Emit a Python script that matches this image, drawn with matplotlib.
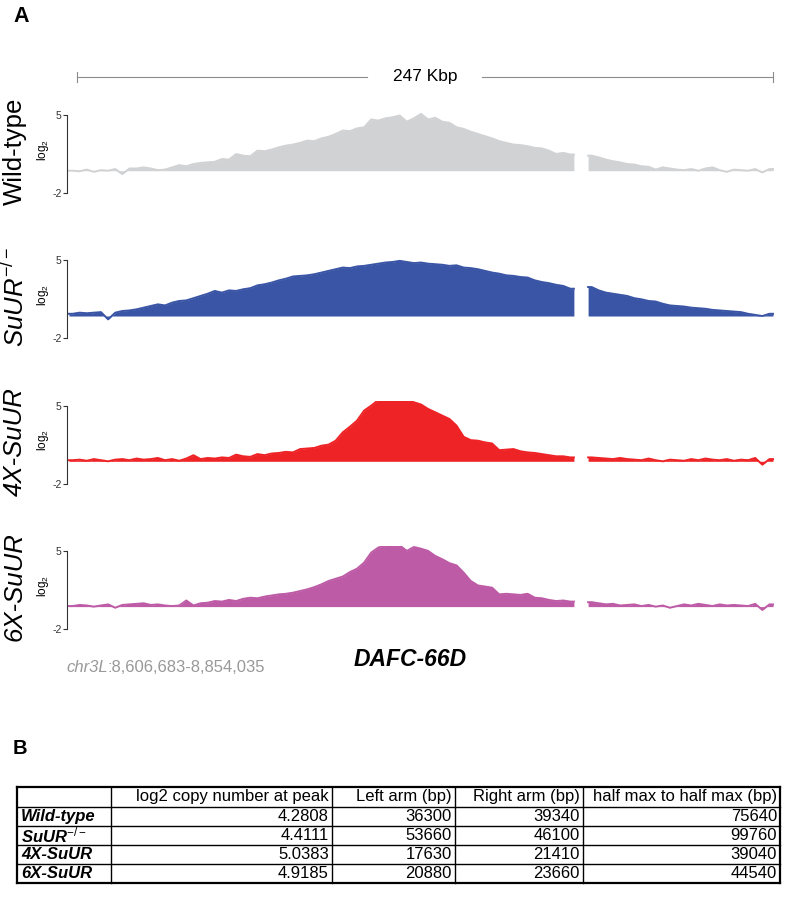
import numpy as np
import matplotlib.pyplot as plt

plt.rcParams['font.family'] = ['Liberation Sans', 'DejaVu Sans']
plt.rcParams['mathtext.fontset'] = 'custom'
plt.rcParams['mathtext.rm'] = 'Liberation Sans'
plt.rcParams['mathtext.it'] = 'Liberation Sans:italic'
plt.rcParams['mathtext.bf'] = 'Liberation Sans:bold'
plt.rcParams['mathtext.bfit'] = 'Liberation Sans:italic:bold'

# log2 copy number in 2.5 kb bins along chr3L:8,606,683-8,854,035 (nan = no data)
bin_kb = 2.5
nan = np.nan

wild_type = [0.0, -0.05, 0.1, -0.1, 0.05, 0.0, 0.15, -0.3, 0.2, 0.2,
             0.3, 0.2, 0.05, 0.1, 0.3, 0.5, 0.4, 0.6, 0.7, 0.75,
             0.8, 1.05, 1.0, 1.5, 1.35, 1.3, 1.8, 1.75, 1.9, 2.1,
             2.25, 2.35, 2.5, 2.7, 2.65, 2.9, 3.05, 3.3, 3.6, 3.55,
             3.8, 3.9, 4.6, 4.5, 4.7, 4.8, 4.95, 4.4, 4.7, 5.1,
             4.6, 4.75, 4.4, 4.3, 3.9, 3.75, 3.5, 3.3, 3.1, 2.9,
             2.65, 2.5, 2.35, 2.3, 2.2, 2.05, 2.0, 1.8, 1.5, 1.6,
             1.45, nan, nan, 1.35, 1.2, 1.0, 0.85, 0.75, 0.6, 0.55,
             0.4, 0.35, 0.1, 0.3, 0.2, 0.1, 0.05, 0.15, 0.0, 0.2,
             0.3, 0.05, -0.1, 0.1, 0.05, 0.0, 0.15, -0.15, 0.15]

suur = [0.2, 0.3, 0.25, 0.3, 0.35, -0.3, 0.3, 0.45, 0.5, 0.6,
        0.75, 0.9, 1.05, 0.95, 1.2, 1.35, 1.4, 1.6, 1.8, 2.0,
        2.25, 2.1, 2.3, 2.25, 2.4, 2.5, 2.75, 2.85, 3.0, 3.2,
        3.35, 3.55, 3.6, 3.65, 3.75, 3.9, 4.05, 4.2, 4.35, 4.3,
        4.45, 4.5, 4.6, 4.7, 4.8, 4.85, 4.95, 4.85, 4.75, 4.8,
        4.7, 4.65, 4.6, 4.5, 4.55, 4.35, 4.3, 4.2, 4.05, 3.9,
        3.8, 3.65, 3.6, 3.5, 3.45, 3.2, 3.05, 2.95, 2.8, 2.7,
        2.45, nan, nan, 2.6, 2.3, 2.1, 2.0, 1.9, 1.8, 1.6,
        1.5, 1.35, 1.3, 1.1, 0.95, 0.9, 0.85, 0.75, 0.7, 0.65,
        0.55, 0.5, 0.45, 0.4, 0.35, 0.2, 0.1, 0.0, 0.2]

x4_suur = [0.1, 0.15, 0.05, 0.2, 0.1, 0.0, 0.15, 0.2, 0.1, 0.25,
           0.15, 0.2, 0.3, 0.1, 0.2, 0.05, 0.25, 0.55, 0.2, 0.3,
           0.25, 0.35, 0.3, 0.6, 0.45, 0.4, 0.65, 0.55, 0.7, 0.75,
           0.85, 0.8, 1.1, 1.15, 1.2, 1.4, 1.5, 1.85, 2.6, 3.1,
           3.65, 4.55, 5.0, 5.5, 5.5, 5.5, 5.5, 5.5, 5.3, 5.1,
           4.7, 4.4, 4.1, 3.8, 3.2, 2.2, 1.9, 1.85, 1.7, 1.6,
           1.0, 1.05, 1.1, 0.9, 0.8, 0.75, 0.65, 0.55, 0.45, 0.45,
           0.35, nan, nan, 0.35, 0.3, 0.25, 0.2, 0.3, 0.2, 0.15,
           0.1, 0.25, 0.1, 0.0, 0.15, 0.1, 0.05, 0.2, 0.1, 0.25,
           0.15, 0.1, 0.2, 0.05, 0.15, 0.1, 0.3, -0.3, 0.2]

x6_suur = [0.05, 0.15, 0.1, 0.0, 0.1, 0.2, -0.1, 0.15, 0.2, 0.25,
           0.3, 0.15, 0.2, 0.1, 0.05, 0.1, 0.55, 0.1, 0.3, 0.35,
           0.5, 0.45, 0.6, 0.5, 0.7, 0.8, 0.75, 0.9, 1.0, 1.1,
           1.15, 1.25, 1.4, 1.55, 1.75, 2.0, 2.3, 2.5, 2.7, 3.1,
           3.4, 3.95, 4.85, 5.3, 5.5, 5.5, 5.5, 5.0, 5.35, 5.2,
           5.0, 4.55, 4.25, 3.9, 3.7, 3.05, 2.3, 1.9, 1.8, 1.7,
           1.1, 1.15, 1.1, 1.05, 1.15, 0.8, 0.75, 0.6, 0.5, 0.55,
           0.45, nan, nan, 0.4, 0.3, 0.2, 0.25, 0.1, 0.15, 0.2,
           0.05, 0.15, 0.0, 0.1, -0.1, 0.05, 0.2, 0.1, 0.25, 0.15,
           0.05, 0.2, 0.1, 0.15, 0.1, 0.05, 0.25, -0.3, 0.2]

tracks = [wild_type, suur, x4_suur, x6_suur]
track_names = ['Wild-type', r'$\mathit{SuUR}^{-/-}$', '4X-SuUR', '6X-SuUR']
track_styles = ['normal', 'italic', 'italic', 'italic']
track_colors = ['#d1d2d4', '#3a55a5', '#ee2326', '#bd5ba6']

region_kb = 247
region_label = 'chr3L'
region_coords = ':8,606,683-8,854,035'
locus = 'DAFC-66D'

# table (panel B)
table_cols = ['log2 copy number at peak', 'Left arm (bp)', 'Right arm (bp)',
              'half max to half max (bp)']
table_rows = ['Wild-type', r'$\mathbfit{SuUR}^{-/-}$', '4X-SuUR', '6X-SuUR']
peak_log2 = ['4.2808', '4.4111', '5.0383', '4.9185']
left_arm = [36300, 53660, 17630, 20880]
right_arm = [39340, 46100, 21410, 23660]
half_max = [75640, 99760, 39040, 44540]

W, H = 800, 899
fig = plt.figure(figsize=(W / 100, H / 100), dpi=100)

# overlay in pixel coordinates for labels, scale bar and table
ov = fig.add_axes([0, 0, 1, 1])
ov.set_xlim(0, W)
ov.set_ylim(H, 0)
ov.axis('off')

ov.text(13, 16, 'A', fontsize=15.5, fontweight='bold', va='center', ha='left')
ov.text(13, 748, 'B', fontsize=14.5, fontweight='bold', va='center', ha='left')

# scale bar
bar_c = '#8c8c8c'
ov.plot([77, 367], [77, 77], color=bar_c, lw=0.8)
ov.plot([482, 773], [77, 77], color=bar_c, lw=0.8)
ov.plot([77, 77], [72, 82], color=bar_c, lw=0.8)
ov.plot([773, 773], [72, 82], color=bar_c, lw=0.8)
ov.text(425, 77, f'{region_kb} Kbp', fontsize=12.5, ha='center', va='center')

# tracks
px_per_kb = 704 / (len(wild_type) * bin_kb)
ax_left = 67
ax_right = 774
unit = 78 / 7
for k, vals in enumerate(tracks):
    tick5 = 115 + 145.3 * k
    top = tick5 - 0.45 * unit
    bottom = tick5 + 7 * unit
    ax = fig.add_axes([ax_left / W, 1 - bottom / H, (ax_right - ax_left) / W,
                       (bottom - top) / H])
    ax.patch.set_alpha(0)
    vals = np.array(vals, dtype=float)
    starts = np.arange(len(vals)) * bin_kb
    ok = ~np.isnan(vals)
    # contiguous runs of data
    i = 0
    while i < len(vals):
        if not ok[i]:
            i += 1
            continue
        j = i
        while j + 1 < len(vals) and ok[j + 1]:
            j += 1
        xs = np.concatenate([[starts[i]], starts[i:j + 1] + bin_kb / 2,
                             [starts[j] + bin_kb]])
        ys = np.concatenate([[vals[i]], vals[i:j + 1], [vals[j]]])
        ax.fill_between(xs, 0, ys, color=track_colors[k], lw=0)
        ax.plot(xs, ys, color=track_colors[k], lw=1.4)
        i = j + 1
    ax.set_xlim(-2 / px_per_kb, (ax_right - 69) / px_per_kb)
    ax.set_ylim(-2, 5.45)
    for s in ['top', 'right', 'bottom']:
        ax.spines[s].set_visible(False)
    ax.spines['left'].set_bounds(-2, 5)
    ax.spines['left'].set_color('#333333')
    ax.spines['left'].set_linewidth(0.8)
    ax.set_xticks([])
    ax.set_yticks([-2, 5])
    ax.set_yticklabels(['-2', '5'])
    ax.tick_params(axis='y', length=3, width=0.8, pad=1, labelsize=7.5,
                   colors='#333333')
    ax.set_ylabel(r'log$_2$', fontsize=8.5)
    ax.yaxis.set_label_coords(-0.0226, 0.52)

    ov.text(15, tick5 + 36, track_names[k], rotation=90, fontsize=18.5,
            fontstyle=track_styles[k], ha='center', va='center')

t_chr = ov.text(66, 668, region_label, fontsize=12, fontstyle='italic',
                color='#999999', ha='left', va='center')
ov.annotate(region_coords, xy=(1, 0.5), xycoords=t_chr, fontsize=12,
            color='#999999', ha='left', va='center')
ov.text(410, 660, locus, fontsize=16.5, fontweight='bold', fontstyle='italic',
        ha='center', va='center')

# table
col_x = [17, 111, 332, 455, 583, 780]
row_y = [787, 807, 826, 845, 864, 883]
for x in col_x:
    lw = 1.6 if x in (col_x[0], col_x[-1]) else 1.0
    ov.plot([x, x], [row_y[0], row_y[-1]], color='black', lw=lw)
for y in row_y:
    lw = 1.6 if y in (row_y[0], row_y[-1]) else 1.0
    ov.plot([col_x[0], col_x[-1]], [y, y], color='black', lw=lw)

for c, name in enumerate(table_cols):
    ov.text(col_x[c + 2] - 3, (row_y[0] + row_y[1]) / 2, name, fontsize=12,
            ha='right', va='center')
for r, name in enumerate(table_rows):
    yc = (row_y[r + 1] + row_y[r + 2]) / 2
    ov.text(col_x[0] + 4, yc, name, fontsize=12, fontweight='bold',
            fontstyle='italic', ha='left', va='center')
    cells = [peak_log2[r], str(left_arm[r]), str(right_arm[r]), str(half_max[r])]
    for c, v in enumerate(cells):
        ov.text(col_x[c + 2] - 3, yc, v, fontsize=12, ha='right', va='center')

fig.savefig('out.png', dpi=100)
